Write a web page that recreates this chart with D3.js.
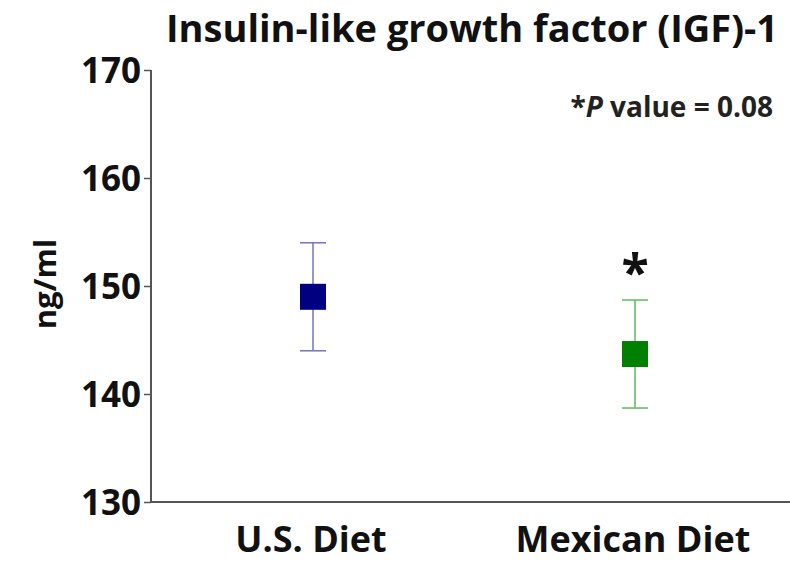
<!DOCTYPE html>
<html>
<head>
<meta charset="utf-8">
<script src="https://cdn.jsdelivr.net/npm/d3@7"></script>
<style>
  body { margin: 0; background: #fff; }
  text { font-family: "Open Sans", "Liberation Sans", sans-serif; font-weight: bold; }
</style>
</head>
<body>
<figure id="chart" style="margin:0"></figure>
<script>
// data
const groups = ["U.S. Diet", "Mexican Diet"];
const means = [149.0, 143.7];
const lower = [144.0, 138.7];
const upper = [154.0, 148.7];
const markColors = ["#000080", "#008000"];
const barColors = ["#7373c0", "#5fb85f"];
const stars = ["", "*"];
const yTicks = [130, 140, 150, 160, 170];

const width = 790, height = 563;
const margin = { top: 70, right: 0, bottom: 61, left: 151 };

const svg = d3.select("figure#chart")
  .append("svg")
  .attr("width", width)
  .attr("height", height);

const y = d3.scaleLinear()
  .domain([130, 170])
  .range([height - margin.bottom, margin.top]);

// positions for the two groups
const x = d3.scalePoint()
  .domain(groups)
  .range([313, 635]);

// y axis
const yAxis = svg.append("g")
  .attr("transform", "translate(" + margin.left + ",0)")
  .call(d3.axisLeft(y).tickValues(yTicks).tickSize(7).tickPadding(3));
yAxis.select(".domain").attr("stroke", "#555").attr("stroke-width", 2).attr("d", "M0," + y(170) + "V" + y(130));
yAxis.selectAll(".tick line").attr("stroke", "#555").attr("stroke-width", 1.5);
yAxis.selectAll(".tick text")
  .attr("fill", "#111")
  .style("font-size", "35px")
  .attr("dy", "0.36em");

// x axis line
svg.append("line")
  .attr("x1", margin.left).attr("x2", width)
  .attr("y1", y(130)).attr("y2", y(130))
  .attr("stroke", "#555").attr("stroke-width", 2);

// x labels
svg.selectAll(".xlab")
  .data(groups)
  .enter()
  .append("text")
  .attr("class", "xlab")
  .attr("x", d => x(d) - 2)
  .attr("y", 552)
  .attr("text-anchor", "middle")
  .attr("fill", "#111")
  .style("font-size", "36px")
  .text(d => d);

// error bars
const g = svg.selectAll(".pt")
  .data(groups)
  .enter()
  .append("g")
  .attr("class", "pt");

g.append("line")
  .attr("x1", d => x(d)).attr("x2", d => x(d))
  .attr("y1", (d, i) => y(upper[i])).attr("y2", (d, i) => y(lower[i]))
  .attr("stroke", (d, i) => barColors[i]).attr("stroke-width", 1.5);
[upper, lower].forEach(arr => {
  g.append("line")
    .attr("x1", d => x(d) - 13).attr("x2", d => x(d) + 13)
    .attr("y1", (d, i) => y(arr[i])).attr("y2", (d, i) => y(arr[i]))
    .attr("stroke", (d, i) => barColors[i]).attr("stroke-width", 1.5);
});
g.append("rect")
  .attr("x", d => x(d) - 13)
  .attr("y", (d, i) => y(means[i]) - 13)
  .attr("width", 26).attr("height", 26)
  .attr("fill", (d, i) => markColors[i]);
g.append("text")
  .attr("x", d => x(d))
  .attr("y", (d, i) => y(upper[i]) - 10)
  .attr("text-anchor", "middle")
  .style("font-size", "50px")
  .attr("fill", "#111")
  .text((d, i) => stars[i]);

// y title
svg.append("text")
  .attr("transform", "translate(56," + (y(150) - 2) + ")rotate(-90)")
  .attr("text-anchor", "middle")
  .attr("fill", "#111")
  .style("font-size", "31px")
  .text("ng/ml");

// chart title
svg.append("text")
  .attr("x", 472)
  .attr("y", 42)
  .attr("text-anchor", "middle")
  .attr("fill", "#111")
  .style("font-size", "38px")
  .text("Insulin-like growth factor (IGF)-1");

// p value note
const note = svg.append("text")
  .attr("x", 773)
  .attr("y", 117)
  .attr("text-anchor", "end")
  .attr("fill", "#222")
  .style("font-size", "28px");
note.append("tspan").text("*");
note.append("tspan").style("font-style", "italic").text("P");
note.append("tspan").text(" value = 0.08");
</script>
</body>
</html>
